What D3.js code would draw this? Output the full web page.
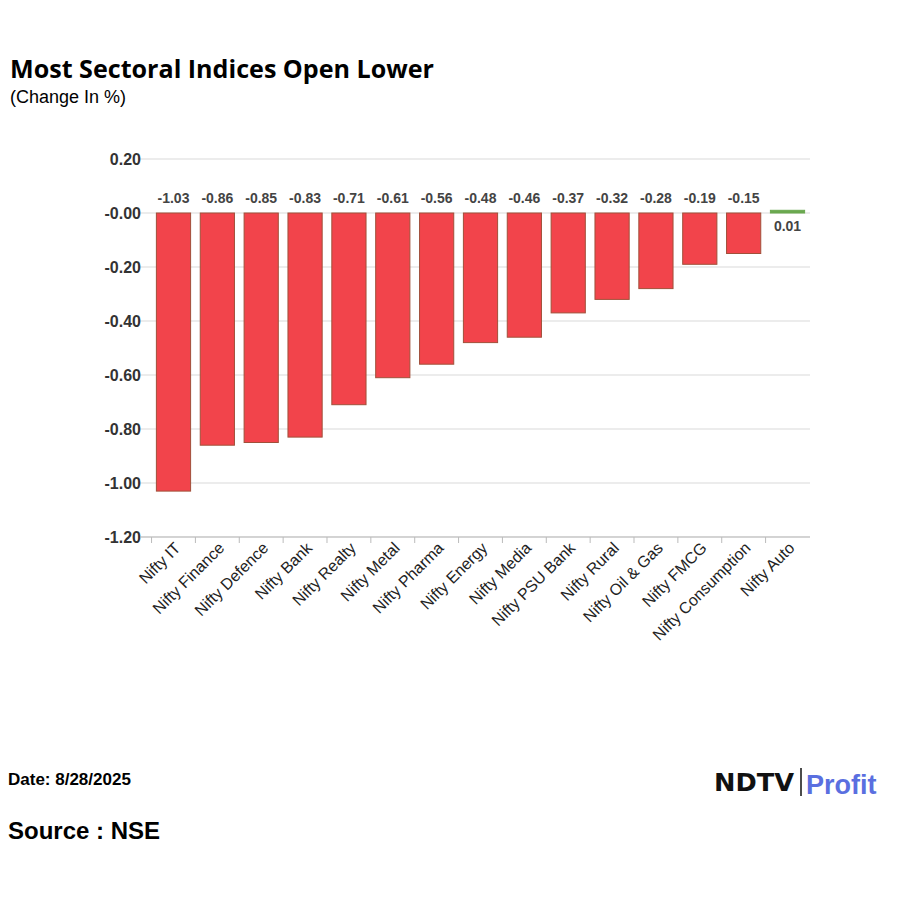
<!DOCTYPE html>
<html><head><meta charset="utf-8">
<script src="https://cdn.jsdelivr.net/npm/d3@7"></script>
<style>body{margin:0;background:#fff;font-family:Arial,"Liberation Sans",sans-serif}</style>
</head><body>
<svg id="c" width="900" height="900"></svg>
<script>
const categories=["Nifty IT","Nifty Finance","Nifty Defence","Nifty Bank","Nifty Realty","Nifty Metal","Nifty Pharma","Nifty Energy","Nifty Media","Nifty PSU Bank","Nifty Rural","Nifty Oil & Gas","Nifty FMCG","Nifty Consumption","Nifty Auto"];
const values=[-1.03,-0.86,-0.85,-0.83,-0.71,-0.61,-0.56,-0.48,-0.46,-0.37,-0.32,-0.28,-0.19,-0.15,0.01];
const tickValues=[0.2,0,-0.2,-0.4,-0.6,-0.8,-1.0,-1.2];
const tickLabels=["0.20","-0.00","-0.20","-0.40","-0.60","-0.80","-1.00","-1.20"];
const svg=d3.select("#c");
svg.append("text").attr("x",10).attr("y",78).attr("font-size",25).attr("font-weight","bold").attr("font-family","'Open Sans',Arial,sans-serif").attr("textLength",424).attr("lengthAdjust","spacingAndGlyphs").text("Most Sectoral Indices Open Lower");
svg.append("text").attr("x",10).attr("y",103).attr("font-size",18).text("(Change In %)");
const x=d3.scaleBand().domain(categories).range([152,809]).paddingInner(0.22).paddingOuter(0.1);
const y=d3.scaleLinear().domain([-1.2,0.2]).range([537,159]);
const g=svg.append("g");
g.selectAll("line.grid").data(tickValues).join("line").attr("x1",140).attr("x2",810)
 .attr("y1",d=>y(d)).attr("y2",d=>y(d)).attr("stroke","#d9d9d9");
g.selectAll("text.yt").data(tickValues).join("text").attr("x",141).attr("y",d=>y(d)+6)
 .attr("text-anchor","end").attr("font-size",16).attr("font-weight","bold").attr("fill","#333")
 .text((d,i)=>tickLabels[i]);
g.selectAll("rect.bar").data(values).join("rect")
 .attr("x",(d,i)=>x(categories[i])).attr("width",x.bandwidth())
 .attr("y",d=>y(Math.max(0,d))).attr("height",d=>Math.max(1.5,Math.abs(y(d)-y(0))))
 .attr("fill",d=>d<0?"#f2444b":"#6aa84f").attr("stroke",d=>d<0?"#a0503a":"#6aa84f").attr("stroke-width",1);
g.selectAll("text.vl").data(values).join("text")
 .attr("x",(d,i)=>x(categories[i])+x.bandwidth()/2)
 .attr("y",d=>d<0?y(0)-10:y(0)+18)
 .attr("text-anchor","middle").attr("font-size",14).attr("font-weight","bold").attr("fill","#444")
 .text(d=>d.toFixed(2));
g.append("line").attr("x1",140).attr("x2",810).attr("y1",y(-1.2)).attr("y2",y(-1.2)).attr("stroke","#bbb");
g.selectAll("line.xt").data(categories).join("line")
 .attr("x1",d=>x(d)-x.step()*0.11).attr("x2",d=>x(d)-x.step()*0.11)
 .attr("y1",y(-1.2)).attr("y2",y(-1.2)+6).attr("stroke","#bbb");
g.selectAll("text.xl").data(categories).join("text")
 .attr("transform",d=>`translate(${x(d)+x.bandwidth()/2+8},${y(-1.2)+12}) rotate(-45)`)
 .attr("text-anchor","end").attr("font-size",16).attr("fill","#222").text(d=>d);
svg.append("text").attr("x",8).attr("y",785).attr("font-size",17).attr("font-weight","bold").text("Date: 8/28/2025");
svg.append("text").attr("x",8).attr("y",839).attr("font-size",24).attr("font-weight","bold").text("Source : NSE");
svg.append("text").attr("x",714).attr("y",791).attr("font-size",24).attr("font-weight","900").attr("fill","#111").attr("font-family","'DejaVu Sans',sans-serif").attr("textLength",80).attr("lengthAdjust","spacingAndGlyphs").text("NDTV");
svg.append("line").attr("x1",801).attr("x2",801).attr("y1",768).attr("y2",796).attr("stroke","#111").attr("stroke-width",1.5);
svg.append("text").attr("x",806).attr("y",794).attr("font-size",27).attr("font-weight","bold").attr("fill","#5a6fe0").text("Profit");
</script></body></html>
